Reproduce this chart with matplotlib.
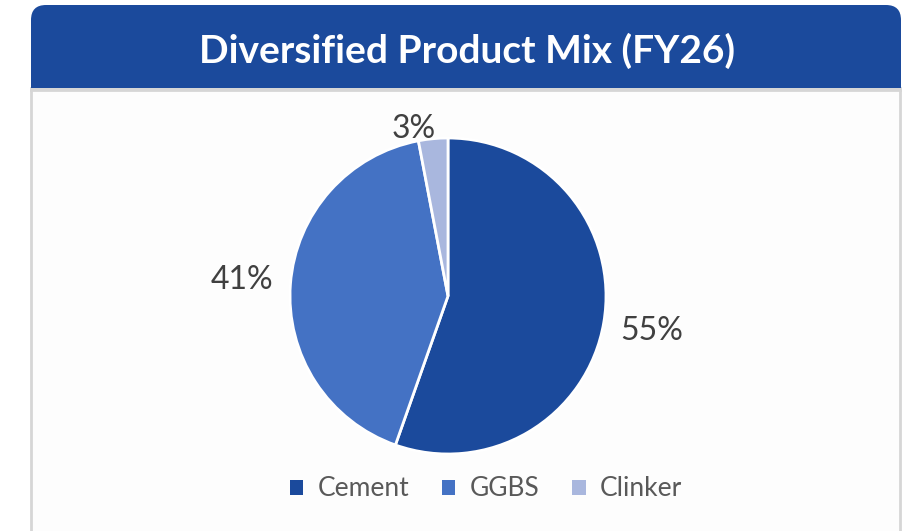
import matplotlib
matplotlib.use("Agg")
import matplotlib.pyplot as plt
from matplotlib.patches import FancyBboxPatch, Rectangle, Patch

## data
products = ["Cement", "GGBS", "Clinker"]
shares = [55.4, 41.6, 3.0]
share_labels = ["55%", "41%", "3%"]
colors = ["#1B4A9C", "#4472C4", "#A9B7DE"]
title = "Diversified Product Mix (FY26)"

W, H = 902, 531
plt.rcParams["font.family"] = ["Lato", "DejaVu Sans"]

fig = plt.figure(figsize=(W / 100, H / 100), dpi=100)
fig.patch.set_facecolor("white")

## background: panel + title banner (pixel coords)
bg = fig.add_axes([0, 0, 1, 1])
bg.set_xlim(0, W)
bg.set_ylim(H, 0)
bg.axis("off")
bg.add_patch(Rectangle((31, 88), 869, 460, facecolor="#FDFDFD",
                       edgecolor="#D6D6D6", linewidth=2))
bg.add_patch(FancyBboxPatch((31, 5), 870, 83, boxstyle="round,pad=0,rounding_size=15",
                            facecolor="#1B4A9C", edgecolor="none"))
bg.add_patch(Rectangle((31, 50), 870, 38, facecolor="#1B4A9C", edgecolor="none"))
bg.plot([31, 901], [89.5, 89.5], color="#D6D6D6", linewidth=2)
bg.text(467, 51, title, color="white", fontsize=28, fontweight="bold",
        ha="center", va="center")

## pie
cx, cy, r = 448, 296, 158
ax = fig.add_axes([(cx - r) / W, (H - cy - r) / H, 2 * r / W, 2 * r / H])
wedges, texts = ax.pie(shares, labels=share_labels, colors=colors, startangle=90,
                       counterclock=False, labeldistance=1.31,
                       wedgeprops=dict(edgecolor="white", linewidth=2),
                       textprops=dict(fontsize=23, color="#404040"))
texts[2].set_position((-0.22, 1.06))
for t in texts:
    t.set_ha("center")
    t.set_va("center")
ax.set_xlim(-1, 1)
ax.set_ylim(-1, 1)
ax.set_aspect("equal")

## legend
handles = [Patch(facecolor=c, edgecolor="none") for c in colors]
fig.legend(handles, products, loc="center", bbox_to_anchor=(486 / W, 1 - 489 / H),
           ncol=3, frameon=False, fontsize=19, labelcolor="#595959",
           handlelength=0.5, handleheight=0.5, handletextpad=0.55, columnspacing=1.25)

fig.savefig("out.png", dpi=100)
